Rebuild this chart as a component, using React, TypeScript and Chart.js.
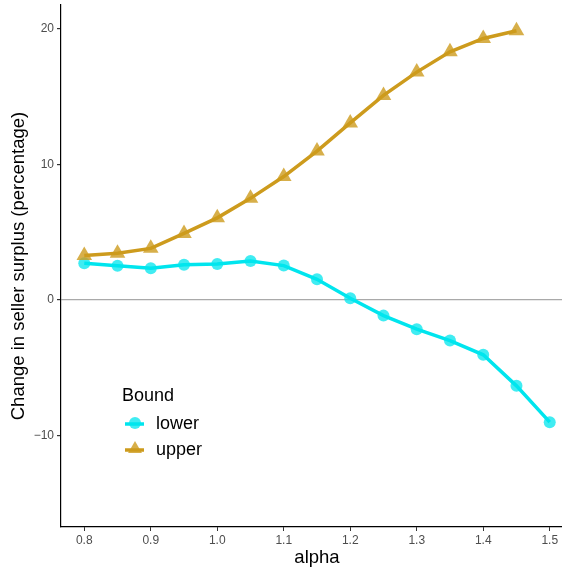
import React, { useEffect, useRef } from "react";
import { Chart, registerables } from "chart.js";

Chart.register(...registerables);

const alphaValues = [0.8, 0.85, 0.9, 0.95, 1.0, 1.05, 1.1, 1.15, 1.2, 1.25, 1.3, 1.35, 1.4, 1.45, 1.5];
const lowerValues = [2.7, 2.51, 2.33, 2.6, 2.65, 2.87, 2.53, 1.52, 0.12, -1.16, -2.16, -3.0, -4.05, -6.34, -9.02];
const upperAlpha = [0.8, 0.85, 0.9, 0.95, 1.0, 1.05, 1.1, 1.15, 1.2, 1.25, 1.3, 1.35, 1.4, 1.45];
const upperValues = [3.27, 3.44, 3.8, 4.9, 6.05, 7.49, 9.1, 10.98, 13.05, 15.08, 16.8, 18.3, 19.28, 19.85];
const xTickValues = [0.8, 0.9, 1.0, 1.1, 1.2, 1.3, 1.4, 1.5];
const yTickValues = [-10, 0, 10, 20];
const seriesNames = ["lower", "upper"];

const FONT = "'Liberation Sans', Arial, Helvetica, sans-serif";
const CYAN = "#00E5EE";
const CYAN_PT = "rgba(0,229,238,0.75)";
const GOLD = "#CD9B1D";
const GOLD_PT = "rgba(205,155,29,0.8)";

const legendPlugin = {
  id: "innerLegend",
  afterDraw(chart: any) {
    const ctx = chart.ctx;
    ctx.save();
    ctx.fillStyle = "#000";
    ctx.font = `18px ${FONT}`;
    ctx.textBaseline = "middle";
    ctx.textAlign = "left";
    ctx.fillText("Bound", 122, 396);
    const rows = [
      { name: seriesNames[0], color: CYAN, pt: CYAN_PT, style: "circle", y: 424 },
      { name: seriesNames[1], color: GOLD, pt: GOLD_PT, style: "triangle", y: 450 },
    ];
    for (const r of rows) {
      ctx.strokeStyle = r.color;
      ctx.lineWidth = 3.5;
      ctx.beginPath();
      ctx.moveTo(125, r.y);
      ctx.lineTo(144, r.y);
      ctx.stroke();
      ctx.fillStyle = r.pt;
      ctx.beginPath();
      if (r.style === "circle") {
        ctx.arc(135, r.y - 1, 6, 0, Math.PI * 2);
      } else {
        const rad = 8;
        const cy = r.y - 1;
        ctx.moveTo(135, cy - rad);
        ctx.lineTo(135 + rad * Math.sin((2 * Math.PI) / 3), cy - rad * Math.cos((2 * Math.PI) / 3));
        ctx.lineTo(135 + rad * Math.sin((4 * Math.PI) / 3), cy - rad * Math.cos((4 * Math.PI) / 3));
        ctx.closePath();
      }
      ctx.fill();
      ctx.fillStyle = "#000";
      ctx.fillText(r.name, 156, r.y);
    }
    ctx.restore();
  },
};

const CANVAS_W = 573;
const CANVAS_H = 569;

export default function App() {
  const ref = useRef<HTMLCanvasElement | null>(null);
  useEffect(() => {
    if (!ref.current) return;
    const chart = new Chart(ref.current, {
      type: "line",
      data: {
        datasets: [
          {
            label: seriesNames[1],
            data: upperAlpha.map((x, i) => ({ x, y: upperValues[i] })),
            borderColor: GOLD,
            backgroundColor: GOLD_PT,
            borderWidth: 3.5,
            pointStyle: "triangle",
            pointRadius: 9,
            pointBorderWidth: 0,
            pointBackgroundColor: GOLD_PT,
            tension: 0,
            clip: false,
          },
          {
            label: seriesNames[0],
            data: alphaValues.map((x, i) => ({ x, y: lowerValues[i] })),
            borderColor: CYAN,
            backgroundColor: CYAN_PT,
            borderWidth: 3.5,
            pointStyle: "circle",
            pointRadius: 6,
            pointBorderWidth: 0,
            pointBackgroundColor: CYAN_PT,
            tension: 0,
            clip: false,
          },
        ],
      },
      options: {
        animation: false,
        responsive: false,
        maintainAspectRatio: false,
        layout: { autoPadding: false, padding: { top: 5, right: 0, left: 0, bottom: 0 } },
        plugins: {
          legend: { display: false },
          tooltip: { enabled: false },
        },
        scales: {
          x: {
            type: "linear",
            min: 0.765,
            max: 1.535,
            afterBuildTicks: (s: any) => {
              s.ticks = xTickValues.map((v) => ({ value: v }));
            },
            afterFit: (s: any) => {
              s.height = 42;
              s.paddingLeft = 0;
              s.paddingRight = 0;
            },
            border: { display: true, color: "#000", width: 1.2 },
            grid: { drawOnChartArea: false, tickColor: "#333", tickLength: 4, color: "#333" },
            ticks: {
              color: "#4D4D4D",
              font: { family: FONT, size: 12 },
              padding: 2,
              maxRotation: 0,
              autoSkip: false,
              callback: (v: any) => Number(v).toFixed(1),
            },
            title: {
              display: true,
              text: "alpha",
              color: "#000",
              font: { family: FONT, size: 18.5 },
              padding: { top: 0, bottom: 0 },
            },
          },
          y: {
            type: "linear",
            min: -16.75,
            max: 21.75,
            afterBuildTicks: (s: any) => {
              s.ticks = yTickValues.map((v) => ({ value: v }));
            },
            afterFit: (s: any) => {
              s.width = 61;
              s.paddingTop = 0;
              s.paddingBottom = 0;
            },
            border: { display: true, color: "#000", width: 1.2 },
            grid: {
              color: (c: any) => (c.tick && c.tick.value === 0 ? "#A9A9A9" : "rgba(0,0,0,0)"),
              lineWidth: 1.2,
              tickColor: "#333",
              tickLength: 4,
            },
            ticks: {
              color: "#4D4D4D",
              font: { family: FONT, size: 12 },
              padding: 3,
              autoSkip: false,
              callback: (v: any) => (Number(v) < 0 ? "\u2212" + Math.abs(Number(v)) : String(v)),
            },
            title: {
              display: true,
              text: "Change in seller surplus (percentage)",
              color: "#000",
              font: { family: FONT, size: 18.5 },
              padding: { top: 8, bottom: 0 },
            },
          },
        },
      },
      plugins: [legendPlugin],
    } as any);
    return () => chart.destroy();
  }, []);
  return (
    <div
      style={{
        position: "fixed",
        left: 0,
        top: 0,
        width: 562,
        height: CANVAS_H,
        overflow: "hidden",
        background: "#fff",
      }}
    >
      <canvas
        ref={ref}
        width={CANVAS_W}
        height={CANVAS_H}
        style={{ width: CANVAS_W, height: CANVAS_H, display: "block" }}
      />
    </div>
  );
}
